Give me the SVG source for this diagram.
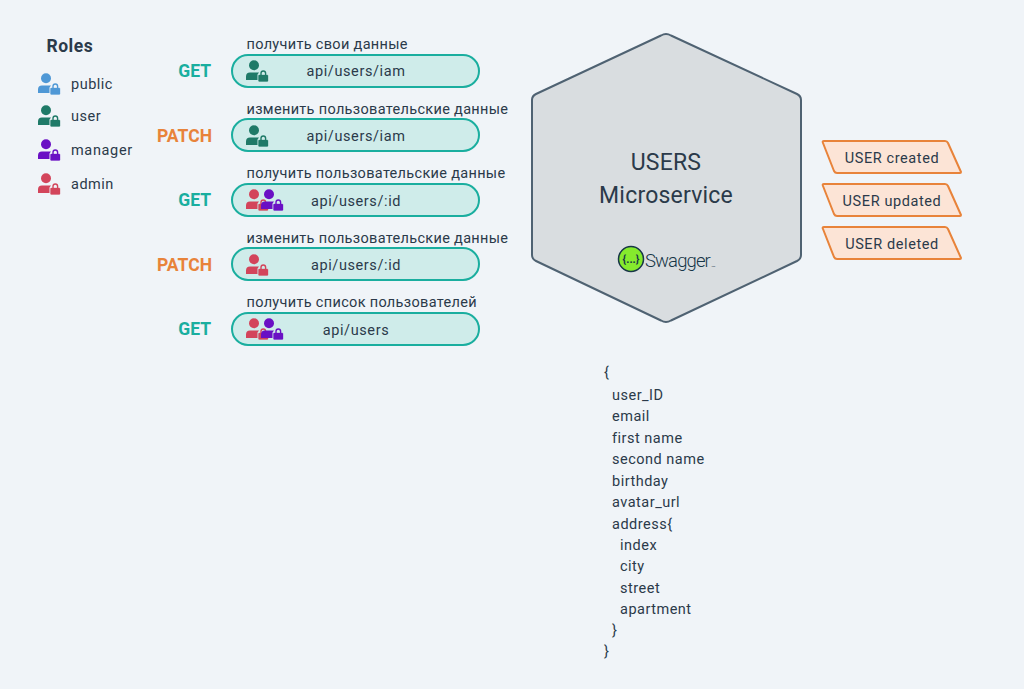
<svg xmlns="http://www.w3.org/2000/svg" width="1024" height="689" viewBox="0 0 1024 689">
<style>
text{font-family:"Roboto","Liberation Sans",sans-serif;fill:#2b3a4a}
.t{font-size:14.5px;letter-spacing:.5px}
.r{font-size:14.5px;letter-spacing:.32px}
.c{font-size:14.5px;text-anchor:middle;letter-spacing:.6px}
.m{font-size:17.5px;font-weight:700;text-anchor:end}
.get{fill:#1aae9f}.patch{fill:#e8833a}
.pill{fill:#cfecea;stroke:#1aae9f;stroke-width:2}
.ev{fill:#fce4d6;stroke:#e8833a;stroke-width:2;stroke-linejoin:round}
.pub{color:#4f98d6}.usr{color:#1f7a68}.mgr{color:#6a10c4}.adm{color:#d3455b}
</style>
<defs>
<g id="role">
<circle cx="8" cy="6.300" r="5" fill="currentColor"/>
<path d="M0 21V17.500Q0 13.700 4 13.500H13L11.500 15.500V21Z" fill="currentColor"/>
<rect x="12.500" y="16" width="9.500" height="6.500" rx=".8" fill="currentColor" stroke="currentColor" stroke-opacity=".4" stroke-width=".8"/>
<path d="M15 16.500V14.300a2.300 2.300 0 0 1 4.600 0V16.500" fill="none" stroke="currentColor" stroke-width="1.400"/>
</g>
</defs>
<rect width="1024" height="689" fill="#f0f4f8"/>
<g id="roles">
<text x="46.500" y="52" style="font-size:17.5px;font-weight:700;letter-spacing:.5px">Roles</text>
<use href="#role" x="38" y="72" class="pub"/><text x="71" y="89" class="t">public</text>
<use href="#role" x="38" y="104" class="usr"/><text x="71" y="121" class="t">user</text>
<use href="#role" x="38" y="138" class="mgr"/><text x="71" y="155" class="t" style="letter-spacing:.65px">manager</text>
<use href="#role" x="38" y="172" class="adm"/><text x="71" y="189" class="t">admin</text>
</g>
<g id="connectors"></g>
<g id="ep1">
<text x="246.500" y="49" class="r">получить свои данные</text>
<text x="211" y="77" class="m get">GET</text>
<rect x="232" y="55" width="247" height="32" rx="16" class="pill"/>
<use href="#role" x="246" y="59" class="usr"/>
<text x="356" y="76" class="c">api/users/iam</text>
</g>
<g id="ep2">
<text x="246.500" y="114" class="r">изменить пользовательские данные</text>
<text x="212" y="142" class="m patch">PATCH</text>
<rect x="232" y="119" width="247" height="32" rx="16" class="pill"/>
<use href="#role" x="246" y="124" class="usr"/>
<text x="356" y="141" class="c">api/users/iam</text>
</g>
<g id="ep3">
<text x="246.500" y="178" class="r">получить пользовательские данные</text>
<text x="211" y="206" class="m get">GET</text>
<rect x="232" y="184" width="247" height="32" rx="16" class="pill"/>
<use href="#role" x="246" y="188" class="adm"/>
<use href="#role" x="261" y="188" class="mgr"/>
<text x="356" y="206" class="c">api/users/:id</text>
</g>
<g id="ep4">
<text x="246.500" y="243" class="r">изменить пользовательские данные</text>
<text x="212" y="271" class="m patch">PATCH</text>
<rect x="232" y="248" width="247" height="32" rx="16" class="pill"/>
<use href="#role" x="246" y="253" class="adm"/>
<text x="356" y="270" class="c">api/users/:id</text>
</g>
<g id="ep5">
<text x="246.500" y="307" class="r">получить список пользователей</text>
<text x="211" y="335" class="m get">GET</text>
<rect x="232" y="313" width="247" height="32" rx="16" class="pill"/>
<use href="#role" x="246" y="317" class="adm"/>
<use href="#role" x="261" y="317" class="mgr"/>
<text x="356" y="335" class="c">api/users</text>
</g>
<g id="service">
<path d="M661 35.500Q666 32.500 671 35.500L797 94Q801 96 801 100V255Q801 259 797 261L671 320.500Q666 323.500 661 320.500L536 261Q532 259 532 255V100Q532 96 536 94Z" fill="#d9dde0" stroke="#4f6272" stroke-width="2" stroke-linejoin="round"/>
<text x="666" y="170" style="font-size:23px;text-anchor:middle;letter-spacing:.2px">USERS</text>
<text x="666" y="203" style="font-size:23px;text-anchor:middle;letter-spacing:.2px">Microservice</text>
<circle cx="631" cy="259" r="12.500" fill="#85ea2d" stroke="#173647" stroke-width="1.500"/>
<text x="631" y="263" style="font-size:11px;text-anchor:middle;fill:#173647;font-weight:700">{...}</text>
<text x="645" y="266.500" style="font-size:18.500px;fill:#173647;letter-spacing:-.9px;font-weight:300">Swagger</text>
<text x="711.500" y="266.500" style="font-size:2.500px;fill:#173647">TM</text>
</g>
<g id="ev1"><path d="M823 143Q822 141 824 141H945Q947 141 948 143L961 172Q961 173 960 173H837Q835 173 834 171Z" class="ev"/><text x="892" y="163" class="c">USER created</text></g>
<g id="ev2"><path d="M823 186Q822 184 824 184H945Q947 184 948 186L961 215Q961 216 960 216H837Q835 216 834 214Z" class="ev"/><text x="892" y="206" class="c">USER updated</text></g>
<g id="ev3"><path d="M823 229Q822 227 824 227H945Q947 227 948 229L961 258Q961 259 960 259H837Q835 259 834 257Z" class="ev"/><text x="892" y="249" class="c">USER deleted</text></g>
<g id="schema">
<text x="604" y="377" class="t">{</text>
<text x="612" y="400" class="t">user_ID</text>
<text x="612" y="421" class="t">email</text>
<text x="612" y="443" class="t">first name</text>
<text x="612" y="464" class="t">second name</text>
<text x="612" y="486" class="t">birthday</text>
<text x="612" y="507" class="t">avatar_url</text>
<text x="612" y="529" class="t">address{</text>
<text x="620" y="550" class="t">index</text>
<text x="620" y="571" class="t">city</text>
<text x="620" y="593" class="t">street</text>
<text x="620" y="614" class="t">apartment</text>
<text x="612" y="635" class="t">}</text>
<text x="604" y="656" class="t">}</text>
</g>
</svg>
